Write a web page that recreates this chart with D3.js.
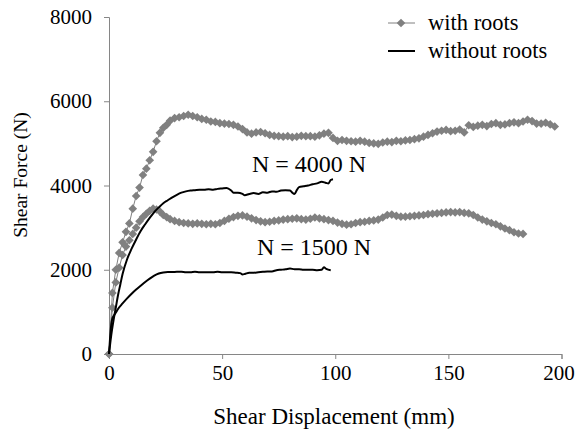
<!DOCTYPE html>
<html>
<head>
<meta charset="utf-8">
<script src="https://cdn.jsdelivr.net/npm/d3@7"></script>
<style>
  body { margin: 0; background: #fff; }
  svg text { font-family: "Liberation Serif", "Times New Roman", serif; fill: #000; }
</style>
</head>
<body>
<div class="chart"></div>
<script>
// axis ticks
const xTicks = [0, 50, 100, 150, 200];
const yTicks = [0, 2000, 4000, 6000, 8000];

// with roots, N = 4000 N
const dispRoots4000 = [0, 1.5, 3, 4.5, 6, 7.5, 9, 10.5, 12, 13.5, 15, 16.5, 18, 19.5, 21, 22.5, 24, 25.5, 27, 29,
  31, 33, 35, 37, 39, 41, 43, 45, 47, 49, 51, 53, 55, 57, 59, 61, 63, 65, 67, 69,
  71, 73, 75, 77, 79, 81, 83, 85, 87, 89, 91, 93, 95, 97, 99, 101, 103, 105, 107, 109,
  111, 113, 115, 117, 119, 121, 123, 125, 127, 129, 131, 133, 135, 137, 139, 141, 143, 145, 147, 149,
  151, 153, 155, 157, 159, 161, 163, 165, 167, 169, 171, 173, 175, 177, 179, 181, 183, 185, 187, 189,
  191, 193, 195, 197];
const forceRoots4000 = [0, 1450, 2000, 2400, 2650, 2900, 3100, 3450, 3750, 3950, 4250, 4400, 4600, 4800, 5050, 5250, 5370, 5440, 5540, 5600,
  5620, 5650, 5680, 5650, 5620, 5580, 5560, 5520, 5510, 5480, 5470, 5460, 5440, 5400, 5340, 5260, 5230, 5260, 5270, 5240,
  5200, 5180, 5170, 5160, 5170, 5150, 5160, 5180, 5170, 5170, 5160, 5190, 5230, 5250, 5130, 5060, 5080, 5060, 5050, 5040,
  5060, 5040, 5010, 5000, 4990, 5020, 5040, 5030, 5060, 5050, 5070, 5080, 5100, 5120, 5160, 5200, 5240, 5280, 5300, 5320,
  5290, 5300, 5330, 5260, 5430, 5390, 5420, 5440, 5410, 5460, 5480, 5440, 5450, 5480, 5500, 5480, 5520, 5560, 5530, 5470,
  5470, 5490, 5450, 5400];

// with roots, N = 1500 N
const dispRoots1500 = [0, 1.5, 3, 4.5, 6, 7.5, 9, 10.5, 12, 13.5, 15, 16.5, 18, 19.5, 21, 22.5, 24, 25.5, 27, 29,
  31, 33, 35, 37, 39, 41, 43, 45, 47, 49, 51, 53, 55, 57, 59, 61, 63, 65, 67, 69,
  71, 73, 75, 77, 79, 81, 83, 85, 87, 89, 91, 93, 95, 97, 99, 101, 103, 105, 107, 109,
  111, 113, 115, 117, 119, 121, 123, 125, 127, 129, 131, 133, 135, 137, 139, 141, 143, 145, 147, 149,
  151, 153, 155, 157, 159, 161, 163, 165, 167, 169, 171, 173, 175, 177, 179, 181, 183];
const forceRoots1500 = [0, 1100, 1700, 2050, 2350, 2550, 2700, 2850, 3000, 3150, 3250, 3330, 3400, 3450, 3430, 3380, 3300, 3250, 3200, 3160,
  3130, 3110, 3100, 3090, 3100, 3090, 3080, 3090, 3080, 3110, 3160, 3210, 3250, 3280, 3290, 3260, 3220, 3180, 3150, 3130,
  3140, 3160, 3170, 3190, 3200, 3210, 3220, 3200, 3190, 3210, 3240, 3220, 3200, 3180, 3160, 3120, 3090, 3070, 3080, 3110,
  3130, 3140, 3160, 3170, 3190, 3240, 3300, 3310, 3280, 3260, 3260, 3270, 3280, 3290, 3300, 3320, 3330, 3340, 3350, 3360,
  3370, 3360, 3370, 3350, 3340, 3300, 3240, 3190, 3150, 3110, 3080, 3030, 2980, 2940, 2890, 2860, 2850];

// without roots, N = 4000 N
const dispBare4000 = [0, 1, 2, 3, 4, 5, 6, 8, 10, 12, 14, 16, 18, 20, 22, 24, 26, 28, 30, 32,
  34, 36, 38, 40, 42, 44, 46, 48, 50, 52, 54, 55, 57, 59, 60, 62, 64, 66, 68, 70,
  72, 74, 76, 78, 80, 81, 82, 83, 84, 86, 88, 90, 92, 94, 96, 97, 98, 99];
const forceBare4000 = [0, 450, 800, 1100, 1400, 1650, 1900, 2250, 2500, 2720, 2920, 3080, 3230, 3370, 3480, 3580, 3650, 3720, 3780, 3830,
  3860, 3880, 3890, 3900, 3900, 3910, 3900, 3920, 3930, 3940, 3880, 3830, 3830, 3800, 3770, 3800, 3820, 3800, 3840, 3830,
  3860, 3850, 3880, 3890, 3880, 3830, 3800, 3890, 3960, 3980, 4000, 4030, 4050, 4090, 4060, 4050, 4130, 4150];

// without roots, N = 1500 N
const dispBare1500 = [0, 0.5, 1, 1.5, 2, 3, 4, 6, 8, 10, 12, 14, 16, 18, 20, 22, 24, 26, 28, 30,
  32, 34, 36, 38, 40, 42, 44, 46, 48, 50, 52, 54, 56, 58, 59, 60, 62, 64, 66, 68,
  70, 72, 74, 76, 78, 80, 82, 84, 86, 88, 90, 92, 94, 95, 96, 98];
const forceBare1500 = [0, 400, 700, 850, 900, 980, 1070, 1200, 1320, 1430, 1530, 1620, 1710, 1790, 1860, 1910, 1935, 1945, 1945, 1950,
  1950, 1940, 1940, 1950, 1940, 1940, 1940, 1940, 1950, 1940, 1940, 1940, 1930, 1920, 1890, 1900, 1930, 1930, 1940, 1950,
  1960, 1960, 1990, 2000, 2010, 2030, 2010, 2010, 2000, 2000, 2000, 1990, 2000, 2060, 2020, 1990];

const seriesNames = ['with roots', 'without roots'];
const loadLabels = ['N = 4000 N', 'N = 1500 N'];

const W = 575, H = 429;
const grey = '#808080', axisGrey = '#868686';

const svg = d3.select('.chart')
  .append('svg')
  .attr('width', W)
  .attr('height', H);

const x = d3.scaleLinear().domain([0, 200]).range([109, 561.5]);
const y = d3.scaleLinear().domain([0, 8000]).range([354, 17]);

// axes
const xAxis = svg.append('g')
  .attr('transform', `translate(0,${y(0)})`)
  .call(d3.axisBottom(x).tickValues(xTicks).tickFormat(d3.format('d')).tickSize(5).tickPadding(6));
const yAxis = svg.append('g')
  .attr('transform', `translate(${x(0)},0)`)
  .call(d3.axisLeft(y).tickValues(yTicks).tickFormat(d3.format('d')).tickSize(5).tickPadding(12));

[xAxis, yAxis].forEach(a => {
  a.select('.domain').attr('stroke', axisGrey);
  a.selectAll('.tick line').attr('stroke', axisGrey);
  a.selectAll('.tick text')
    .style('font-family', '"Liberation Serif", serif')
    .style('font-size', '21px')
    .attr('fill', '#000');
});
// last x label sits against the right edge
xAxis.selectAll('.tick text').filter(d => d === 200).attr('dx', -3);

// axis titles
svg.append('text')
  .attr('x', 334).attr('y', 424)
  .attr('text-anchor', 'middle')
  .style('font-size', '23px')
  .text('Shear Displacement (mm)');
svg.append('text')
  .attr('transform', 'translate(27,175) rotate(-90)')
  .attr('text-anchor', 'middle')
  .style('font-size', '19.5px')
  .text('Shear Force (N)');

const line = d3.line().x(d => x(d[0])).y(d => y(d[1]));
const diamond = d3.symbol().type(d3.symbolDiamond2).size(48);

// series with roots: grey line + diamonds
[[dispRoots4000, forceRoots4000], [dispRoots1500, forceRoots1500]].forEach(([xs, ys]) => {
  const pts = xs.map((v, i) => [v, ys[i]]);
  svg.append('path')
    .attr('d', line(pts))
    .attr('fill', 'none')
    .attr('stroke', grey)
    .attr('stroke-width', 1);
  svg.append('g')
    .selectAll('path')
    .data(pts)
    .enter()
    .append('path')
    .attr('d', diamond)
    .attr('transform', d => `translate(${x(d[0])},${y(d[1])})`)
    .attr('fill', grey);
});

// series without roots: black line
[[dispBare4000, forceBare4000], [dispBare1500, forceBare1500]].forEach(([xs, ys]) => {
  const pts = xs.map((v, i) => [v, ys[i]]);
  svg.append('path')
    .attr('d', line.curve(d3.curveMonotoneX)(pts))
    .attr('fill', 'none')
    .attr('stroke', '#000')
    .attr('stroke-width', 2);
});

// load labels
svg.append('text').attr('x', 252).attr('y', 172).style('font-size', '24px').text(loadLabels[0]);
svg.append('text').attr('x', 257).attr('y', 255).style('font-size', '24px').text(loadLabels[1]);

// legend
const legend = svg.append('g');
legend.append('line')
  .attr('x1', 388).attr('x2', 415).attr('y1', 23).attr('y2', 23)
  .attr('stroke', grey).attr('stroke-width', 1);
legend.append('path')
  .attr('d', diamond)
  .attr('transform', 'translate(401,23)')
  .attr('fill', grey);
legend.append('line')
  .attr('x1', 388).attr('x2', 415).attr('y1', 51).attr('y2', 51)
  .attr('stroke', '#000').attr('stroke-width', 2);
legend.selectAll('text')
  .data(seriesNames)
  .enter()
  .append('text')
  .attr('x', 428)
  .attr('y', (d, i) => 30 + i * 28)
  .style('font-size', '22.5px')
  .text(d => d);
</script>
</body>
</html>
